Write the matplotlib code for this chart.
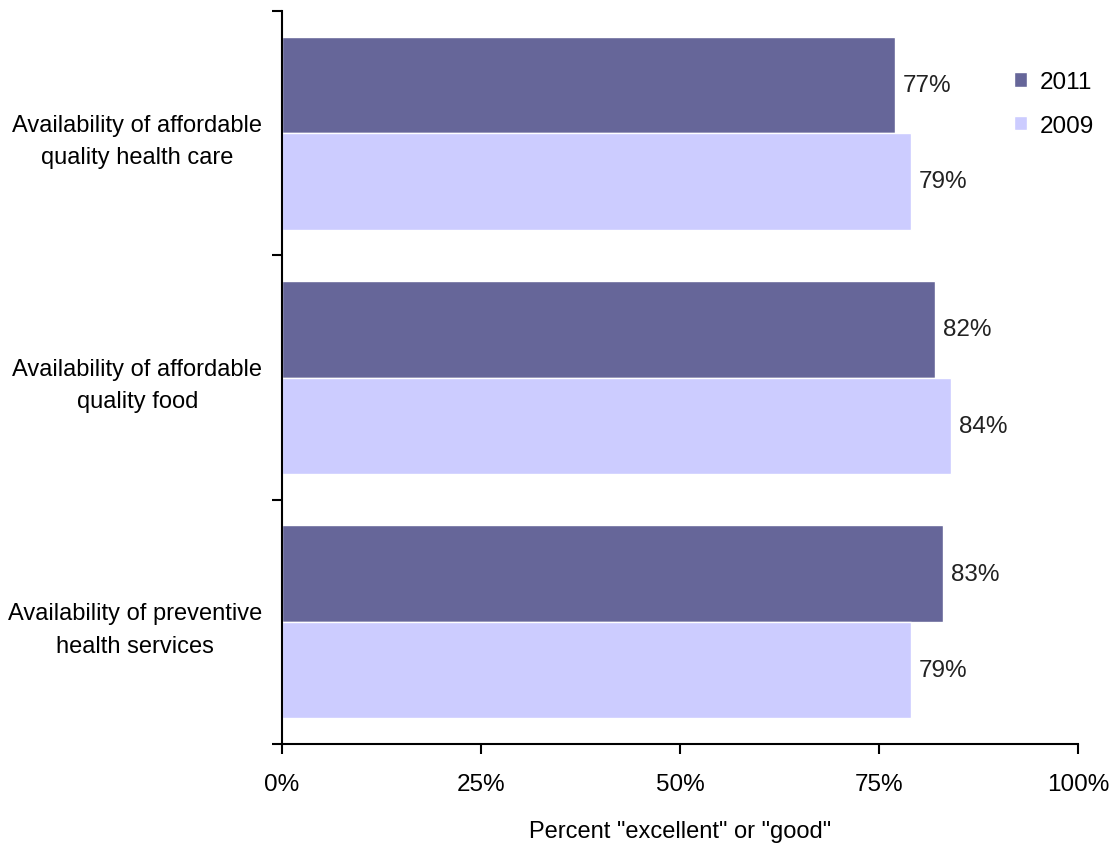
import numpy as np
import matplotlib.pyplot as plt
from matplotlib.ticker import FixedLocator, PercentFormatter

plt.rcParams['font.family'] = ['Liberation Sans', 'DejaVu Sans']

# data
categories = ["Availability of affordable\nquality health care",
              "Availability of affordable\nquality food",
              "Availability of preventive\nhealth services"]
vals_2011 = [77, 82, 83]
vals_2009 = [79, 84, 79]
years = ["2011", "2009"]

col_2011 = "#666699"
col_2009 = "#ccccff"

fig = plt.figure(figsize=(11.14, 8.45), dpi=100)
ax = fig.add_axes([0.253, 0.1183, 0.7147, 0.8675])

y = np.arange(len(categories))
h = 0.395
b1 = ax.barh(y - h / 2, vals_2011, height=h, color=col_2011, edgecolor="white", linewidth=1, label=years[0])
b2 = ax.barh(y + h / 2, vals_2009, height=h, color=col_2009, edgecolor="white", linewidth=1, label=years[1])

for bars in (b1, b2):
    for r in bars:
        ax.annotate(f"{r.get_width():.0f}%", (r.get_width(), r.get_y() + r.get_height() / 2),
                    xytext=(6, 0), textcoords="offset points", va="center", ha="left",
                    fontsize=17.5, color="#222222")

ax.set_xlim(0, 100)
ax.set_ylim(2.5, -0.5)
ax.set_xticks([0, 25, 50, 75, 100])
ax.xaxis.set_major_formatter(PercentFormatter(decimals=0))

ax.yaxis.set_major_locator(FixedLocator([-0.5, 0.5, 1.5, 2.5]))
ax.yaxis.set_major_formatter(plt.NullFormatter())
ax.yaxis.set_minor_locator(FixedLocator(y))
ax.set_yticklabels(categories, minor=True, multialignment="center", linespacing=1.6)
ax.tick_params(axis="y", which="minor", length=0, pad=14, labelsize=17)
ax.tick_params(axis="y", which="major", length=7, width=1.5, direction="out")
ax.tick_params(axis="x", length=7, width=1.5, direction="out", pad=14, labelsize=17.5)

for s in ["top", "right"]:
    ax.spines[s].set_visible(False)
for s in ["left", "bottom"]:
    ax.spines[s].set_linewidth(1.5)

ax.set_xlabel('Percent "excellent" or "good"', fontsize=17, labelpad=18)

ax.legend(loc="upper left", bbox_to_anchor=(0.910, 0.915), bbox_transform=fig.transFigure,
          frameon=False, fontsize=17.5, handlelength=0.55, handleheight=0.55,
          handletextpad=0.5, labelspacing=0.9, borderaxespad=0, borderpad=0)

fig.savefig("out.png", dpi=100)
